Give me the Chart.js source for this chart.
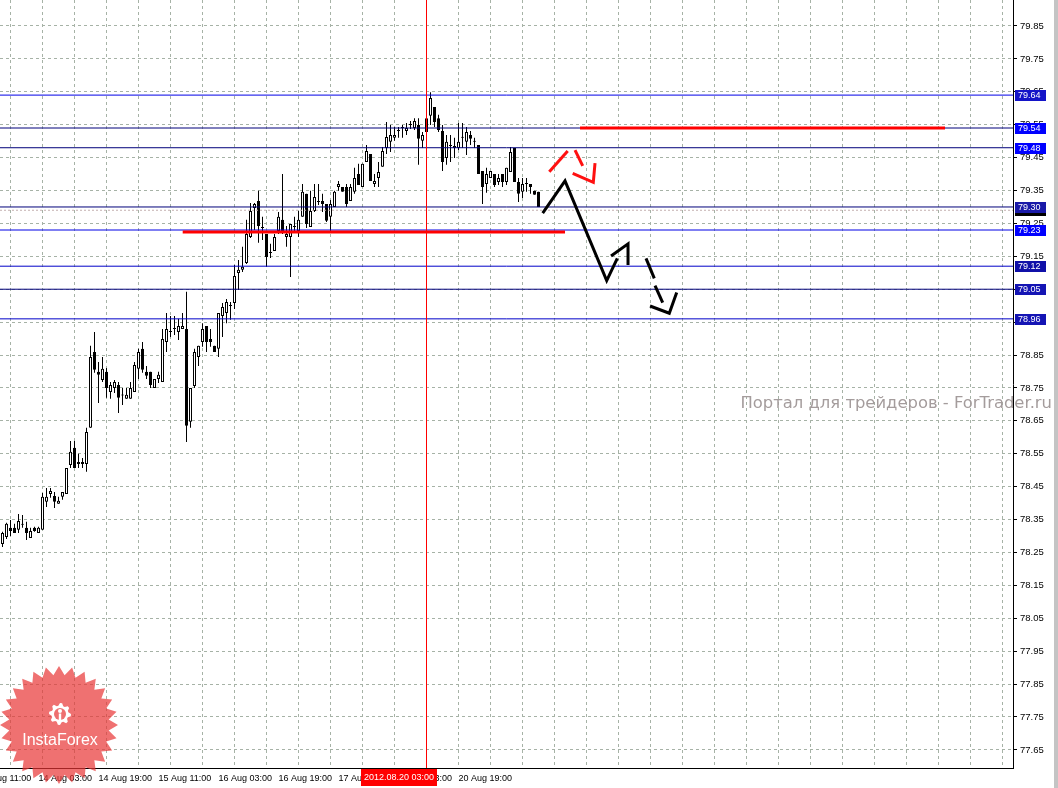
<!DOCTYPE html>
<html>
<head>
<meta charset="utf-8">
<title>USD/JPY H1</title>
<script src="https://cdn.jsdelivr.net/npm/chart.js@4.4.0/dist/chart.umd.min.js"></script>
<style>
  html, body { margin: 0; padding: 0; background: #ffffff; }
  #wrap { width: 1058px; height: 788px; position: relative; }
</style>
</head>
<body>
<div id="wrap"><canvas id="chart" width="1058" height="788"></canvas></div>
<script>
// H1 candles, oldest first
const opens = [
  78.276, 78.297, 78.325, 78.325, 78.319, 78.334, 78.325, 78.294, 78.325, 78.309,
  78.319, 78.404, 78.428, 78.422, 78.398, 78.419, 78.428, 78.516, 78.568, 78.519,
  78.519, 78.519, 78.629, 78.859, 78.799, 78.774, 78.799, 78.738, 78.750, 78.759,
  78.727, 78.717, 78.717, 78.738, 78.808, 78.869, 78.799, 78.799, 78.750, 78.777,
  78.768, 78.890, 78.920, 78.929, 78.920, 78.929, 78.929, 78.647, 78.756, 78.844,
  78.890, 78.938, 78.899, 78.878, 78.869, 78.969, 78.978, 78.999, 79.008, 79.099,
  79.109, 79.130, 79.209, 79.297, 79.318, 79.236, 79.218, 79.160, 79.166, 79.227,
  79.261, 79.209, 79.209, 79.239, 79.227, 79.270, 79.340, 79.239, 79.288, 79.315,
  79.318, 79.309, 79.270, 79.300, 79.361, 79.361, 79.361, 79.318, 79.346, 79.400,
  79.361, 79.437, 79.461, 79.370, 79.388, 79.422, 79.479, 79.498, 79.510, 79.531,
  79.540, 79.531, 79.549, 79.540, 79.549, 79.501, 79.528, 79.577, 79.604, 79.570,
  79.531, 79.449, 79.485, 79.479, 79.479, 79.510, 79.498, 79.519, 79.501, 79.488,
  79.409, 79.370, 79.388, 79.400, 79.376, 79.400, 79.376, 79.406, 79.479, 79.376,
  79.346, 79.370, 79.370, 79.349, 79.346
];
const highs = [
  78.313, 78.340, 78.349, 78.337, 78.367, 78.364, 78.343, 78.325, 78.328, 78.328,
  78.431, 78.446, 78.446, 78.434, 78.419, 78.434, 78.507, 78.589, 78.589, 78.550,
  78.537, 78.629, 78.878, 78.920, 78.829, 78.844, 78.811, 78.768, 78.774, 78.768,
  78.750, 78.750, 78.768, 78.829, 78.869, 78.890, 78.817, 78.799, 78.777, 78.799,
  78.929, 78.978, 78.969, 78.969, 78.960, 78.978, 79.042, 78.750, 78.869, 78.878,
  78.947, 78.938, 78.929, 78.878, 78.978, 79.008, 79.020, 79.011, 79.124, 79.139,
  79.179, 79.261, 79.312, 79.312, 79.349, 79.270, 79.218, 79.188, 79.218, 79.285,
  79.400, 79.242, 79.248, 79.270, 79.288, 79.370, 79.340, 79.349, 79.370, 79.370,
  79.340, 79.309, 79.321, 79.349, 79.379, 79.361, 79.370, 79.370, 79.419, 79.431,
  79.431, 79.488, 79.461, 79.400, 79.437, 79.482, 79.558, 79.549, 79.543, 79.543,
  79.549, 79.555, 79.561, 79.570, 79.570, 79.528, 79.586, 79.649, 79.604, 79.580,
  79.549, 79.519, 79.519, 79.510, 79.555, 79.555, 79.543, 79.531, 79.510, 79.488,
  79.409, 79.419, 79.409, 79.400, 79.400, 79.400, 79.419, 79.482, 79.479, 79.388,
  79.388, 79.388, 79.370, 79.349, 79.346
];
const lows = [
  78.267, 78.291, 78.300, 78.309, 78.309, 78.325, 78.288, 78.294, 78.313, 78.309,
  78.319, 78.388, 78.416, 78.385, 78.398, 78.410, 78.428, 78.507, 78.507, 78.507,
  78.507, 78.495, 78.629, 78.796, 78.704, 78.768, 78.720, 78.717, 78.735, 78.674,
  78.698, 78.717, 78.717, 78.738, 78.777, 78.796, 78.777, 78.750, 78.750, 78.765,
  78.768, 78.859, 78.905, 78.911, 78.896, 78.929, 78.586, 78.629, 78.750, 78.817,
  78.875, 78.859, 78.875, 78.859, 78.844, 78.905, 78.947, 78.957, 78.990, 79.048,
  79.102, 79.127, 79.206, 79.230, 79.191, 79.200, 79.118, 79.145, 79.166, 79.218,
  79.218, 79.179, 79.087, 79.221, 79.209, 79.270, 79.236, 79.239, 79.285, 79.306,
  79.285, 79.254, 79.227, 79.300, 79.349, 79.346, 79.300, 79.318, 79.340, 79.367,
  79.361, 79.437, 79.379, 79.361, 79.361, 79.422, 79.461, 79.467, 79.501, 79.510,
  79.510, 79.519, 79.537, 79.534, 79.428, 79.479, 79.519, 79.549, 79.543, 79.528,
  79.409, 79.428, 79.437, 79.449, 79.473, 79.479, 79.458, 79.488, 79.479, 79.400,
  79.309, 79.343, 79.388, 79.361, 79.367, 79.361, 79.367, 79.406, 79.376, 79.315,
  79.327, 79.346, 79.340, 79.337, 79.300
];
const closes = [
  78.309, 78.337, 78.315, 78.309, 78.346, 78.337, 78.309, 78.315, 78.315, 78.325,
  78.419, 78.419, 78.437, 78.404, 78.407, 78.434, 78.507, 78.556, 78.507, 78.525,
  78.525, 78.616, 78.844, 78.805, 78.790, 78.808, 78.750, 78.759, 78.768, 78.720,
  78.729, 78.729, 78.750, 78.820, 78.859, 78.805, 78.787, 78.759, 78.777, 78.790,
  78.899, 78.929, 78.921, 78.930, 78.938, 78.938, 78.635, 78.750, 78.859, 78.878,
  78.929, 78.890, 78.890, 78.859, 78.978, 78.996, 79.011, 79.000, 79.090, 79.109,
  79.118, 79.218, 79.288, 79.309, 79.242, 79.239, 79.148, 79.163, 79.209, 79.270,
  79.224, 79.218, 79.248, 79.240, 79.261, 79.346, 79.248, 79.288, 79.330, 79.316,
  79.309, 79.258, 79.309, 79.346, 79.370, 79.346, 79.309, 79.361, 79.388, 79.367,
  79.431, 79.470, 79.379, 79.379, 79.406, 79.470, 79.513, 79.519, 79.519, 79.532,
  79.541, 79.540, 79.550, 79.561, 79.507, 79.519, 79.570, 79.631, 79.558, 79.534,
  79.437, 79.498, 79.486, 79.485, 79.498, 79.511, 79.528, 79.507, 79.498, 79.400,
  79.361, 79.400, 79.409, 79.367, 79.388, 79.376, 79.419, 79.467, 79.376, 79.340,
  79.370, 79.371, 79.361, 79.337, 79.300
];

// axis labels
const priceTicks = [79.85, 79.75, 79.65, 79.55, 79.45, 79.35, 79.25, 79.15, 79.05, 78.95, 78.85,
  78.75, 78.65, 78.55, 78.45, 78.35, 78.25, 78.15, 78.05, 77.95, 77.85, 77.75, 77.65];
const timeLabels = ['13 Aug 11:00', '14 Aug 03:00', '14 Aug 19:00', '15 Aug 11:00', '16 Aug 03:00',
  '16 Aug 19:00', '17 Aug 11:00', '20 Aug 03:00', '20 Aug 19:00'];
const timeLabelBars = [-6, 9, 24, 39, 54, 69, 84, 99, 114];

// horizontal levels, line colours and axis box colours
const levelPrices = [79.64, 79.54, 79.48, 79.30, 79.23, 79.12, 79.05, 78.96];
const levelColors = ['#0000e6', '#00007a', '#00007a', '#00007a', '#0000e6', '#0000c8', '#00007a', '#0000c8'];
const boxColors = ['#1414c8', '#0000ff', '#0000ff', '#1a1aa8', '#0000ff', '#1010a8', '#1414b4', '#1414b4'];
const bidPrice = 79.29;

// vertical marker
const markerBar = 106;
const markerText = '2012.08.20 03:00';

// red support / resistance segments: bar from, bar to, price
const redSupport = [45.05, 140.63, 79.224];
const redResist = [144.38, 235.63, 79.54];

// hand drawn forecast (bar index, price)
const blackPathX = [135.05, 140.63, 151.05, 153.7];
const blackPathY = [79.281, 79.379, 79.076, 79.144];
const blackHeadX = [152.13, 156.38, 156.38];
const blackHeadY = [79.151, 79.188, 79.124];
const blackDash1X = [160.88, 162.95];
const blackDash1Y = [79.144, 79.083];
const blackDash2X = [163.13, 165.05];
const blackDash2Y = [79.061, 79.009];
const blackDashHeadX = [161.88, 166.7, 168.55];
const blackDashHeadY = [78.999, 78.977, 79.040];
const redPathX = [136.7, 141.3];
const redPathY = [79.407, 79.470];
const redDashX = [143.13, 145.05];
const redDashY = [79.473, 79.425];
const redHeadX = [142.55, 147.7, 148.13];
const redHeadY = [79.402, 79.375, 79.433];

const xMin = -0.625, xMax = 252.625;
const yMin = 77.595, yMax = 79.929;
const gridColor = '#a6b2a6';

Chart.defaults.font.family = '"Liberation Sans", Arial, sans-serif';
Chart.defaults.font.size = 9;

function seg(xs, ys, color, width, order, dash) {
    return {
        type: 'line',
        data: xs.map((x, i) => ({x: x, y: ys[i]})),
        borderColor: color,
        borderWidth: width,
        borderDash: dash || [],
        pointRadius: 0,
        fill: false,
        tension: 0,
        order: order,
        xAxisID: 'x',
        yAxisID: 'y'
    };
}

// kill the label padding so the plot fills the canvas exactly
function noPad(s) {
    s.paddingTop = 0;
    s.paddingBottom = 0;
    s.paddingLeft = 0;
    s.paddingRight = 0;
}

const idx = opens.map((_, i) => i);

const datasets = [
    {
        type: 'bar',
        data: idx.map(i => ({x: i, y: [opens[i], closes[i]]})),
        backgroundColor: idx.map(i => closes[i] >= opens[i] ? '#ffffff' : '#000000'),
        borderColor: '#000000',
        borderWidth: 1,
        borderSkipped: false,
        barThickness: 3,
        minBarLength: 1,
        grouped: false,
        inflateAmount: 0,
        order: 5,
        xAxisID: 'x',
        yAxisID: 'y'
    },
    {
        type: 'bar',
        data: idx.map(i => ({x: i, y: [lows[i], highs[i]]})),
        backgroundColor: '#000000',
        borderWidth: 0,
        barThickness: 1,
        grouped: false,
        inflateAmount: 0,
        order: 6,
        xAxisID: 'x',
        yAxisID: 'y'
    },
    seg([xMin, xMax], [bidPrice, bidPrice], '#c4b0b0', 1, 2, [2, 2])
];

levelPrices.forEach((p, i) => {
    datasets.push(seg([xMin, xMax], [p, p], levelColors[i], 1, 1));
});

// drawn objects sit on top of the levels
datasets.push(seg([redSupport[0], redSupport[1]], [redSupport[2], redSupport[2]], '#ff0000', 3, -1));
datasets.push(seg([redResist[0], redResist[1]], [redResist[2], redResist[2]], '#ff0000', 3, -1));
datasets.push(seg([markerBar, markerBar], [yMin, yMax], '#ff0000', 1, -1));

datasets.push(seg(blackPathX, blackPathY, '#000000', 3, -2));
datasets.push(seg(blackHeadX, blackHeadY, '#000000', 3, -2));
datasets.push(seg(blackDash1X, blackDash1Y, '#000000', 3, -2));
datasets.push(seg(blackDash2X, blackDash2Y, '#000000', 3, -2));
datasets.push(seg(blackDashHeadX, blackDashHeadY, '#000000', 3, -2));
datasets.push(seg(redPathX, redPathY, '#ff1010', 3, -2));
datasets.push(seg(redDashX, redDashY, '#ff1010', 3, -2));
datasets.push(seg(redHeadX, redHeadY, '#ff1010', 3, -2));

// price boxes, time marker, watermark and logo
const decor = {
    id: 'decor',
    afterDraw(chart) {
        const {ctx, chartArea, scales: {x, y}} = chart;
        ctx.save();

        // watermark
        ctx.font = '16.4px "DejaVu Sans", sans-serif';
        ctx.fillStyle = '#a49c9c';
        ctx.textAlign = 'right';
        ctx.textBaseline = 'middle';
        ctx.fillText('Портал для трейдеров - ForTrader.ru', chart.width - 6, 404);

        // price labels on the axis
        ctx.font = '9px "Liberation Sans", Arial, sans-serif';
        ctx.textAlign = 'left';
        const boxes = [[bidPrice, '#000000']].concat(levelPrices.map((p, i) => [p, boxColors[i]]));
        boxes.forEach(([p, c]) => {
            const py = Math.round(y.getPixelForValue(p));
            ctx.fillStyle = c;
            ctx.fillRect(chartArea.right + 2, py - 5, 31, 11);
            ctx.fillStyle = '#ffffff';
            ctx.fillText(p.toFixed(2), chartArea.right + 5, py + 0.5);
        });

        // time marker label
        const mx = x.getPixelForValue(markerBar);
        ctx.fillStyle = '#ff0000';
        ctx.fillRect(Math.round(mx) - 66, chartArea.bottom + 1, 76, 17);
        ctx.fillStyle = '#ffffff';
        ctx.textAlign = 'center';
        ctx.fillText(markerText, Math.round(mx) - 28, chartArea.bottom + 9.5);

        // right window edge
        ctx.fillStyle = '#c4c4c4';
        ctx.fillRect(chart.width - 4, 0, 4, chart.height);

        // InstaForex badge
        const cx = 59, cy = 725, R = 59, r = 50, n = 28;
        ctx.beginPath();
        for (let i = 0; i < n * 2; i++) {
            const a = -Math.PI / 2 + i * Math.PI / n;
            const rr = i % 2 === 0 ? R : r;
            ctx.lineTo(cx + rr * Math.cos(a), cy + rr * Math.sin(a));
        }
        ctx.closePath();
        ctx.fillStyle = 'rgba(232, 52, 52, 0.7)';
        ctx.fill();

        // gear icon
        const gx = 60, gy = 714;
        ctx.beginPath();
        for (let i = 0; i < 32; i++) {
            const a = i / 32 * Math.PI * 2;
            const rr = Math.floor(i / 2) % 2 === 0 ? 11 : 8.5;
            ctx.lineTo(gx + rr * Math.cos(a), gy + rr * Math.sin(a));
        }
        ctx.closePath();
        ctx.fillStyle = '#ffffff';
        ctx.fill();
        ctx.beginPath();
        ctx.arc(gx, gy, 6, 0, Math.PI * 2);
        ctx.fillStyle = 'rgb(238, 112, 112)';
        ctx.fill();
        ctx.fillStyle = '#ffffff';
        ctx.beginPath();
        ctx.arc(gx, gy - 3, 2, 0, Math.PI * 2);
        ctx.fill();
        ctx.fillRect(gx - 1.2, gy - 0.5, 2.4, 7);

        ctx.font = '16px "Liberation Sans", Arial, sans-serif';
        ctx.textAlign = 'center';
        ctx.fillText('InstaForex', 60, 741);
        ctx.restore();
    }
};

new Chart(document.getElementById('chart'), {
    type: 'bar',
    data: { datasets: datasets },
    options: {
        responsive: false,
        animation: false,
        devicePixelRatio: 1,
        events: [],
        layout: { padding: 0, autoPadding: false },
        plugins: { legend: { display: false }, tooltip: { enabled: false } },
        scales: {
            x: {
                type: 'linear',
                position: 'bottom',
                offset: false,
                min: xMin,
                max: xMax,
                afterBuildTicks: s => { s.ticks = timeLabelBars.map(v => ({value: v})); },
                afterFit: s => { s.height = 20; noPad(s); },
                grid: { display: false, offset: false },
                border: { display: true, color: '#000000', width: 1 },
                ticks: {
                    autoSkip: false, maxRotation: 0, minRotation: 0, align: 'start',
                    padding: -3, color: '#000000',
                    callback: (v, i) => timeLabels[i]
                }
            },
            xg: {
                type: 'linear',
                position: 'bottom',
                offset: false,
                min: xMin,
                max: xMax,
                afterBuildTicks: s => {
                    const t = [];
                    for (let b = 2; b <= xMax; b += 8) t.push({value: b});
                    s.ticks = t;
                },
                afterFit: s => { s.height = 0; noPad(s); },
                grid: { color: gridColor, drawTicks: false, lineWidth: 1, offset: false },
                border: { display: false, dash: [3, 3] },
                ticks: { display: false }
            },
            y: {
                type: 'linear',
                position: 'right',
                min: yMin,
                max: yMax,
                stacked: false,
                afterBuildTicks: s => { s.ticks = priceTicks.map(v => ({value: v})); },
                afterFit: s => { s.width = 45; noPad(s); },
                grid: { color: gridColor, tickColor: '#000000', tickLength: 4, tickWidth: 1 },
                border: { display: true, color: '#000000', width: 1, dash: [3, 3] },
                ticks: { autoSkip: false, padding: 3, color: '#000000', font: { size: 9.5 }, callback: v => v.toFixed(2) }
            }
        }
    },
    plugins: [decor]
});
</script>
</body>
</html>
